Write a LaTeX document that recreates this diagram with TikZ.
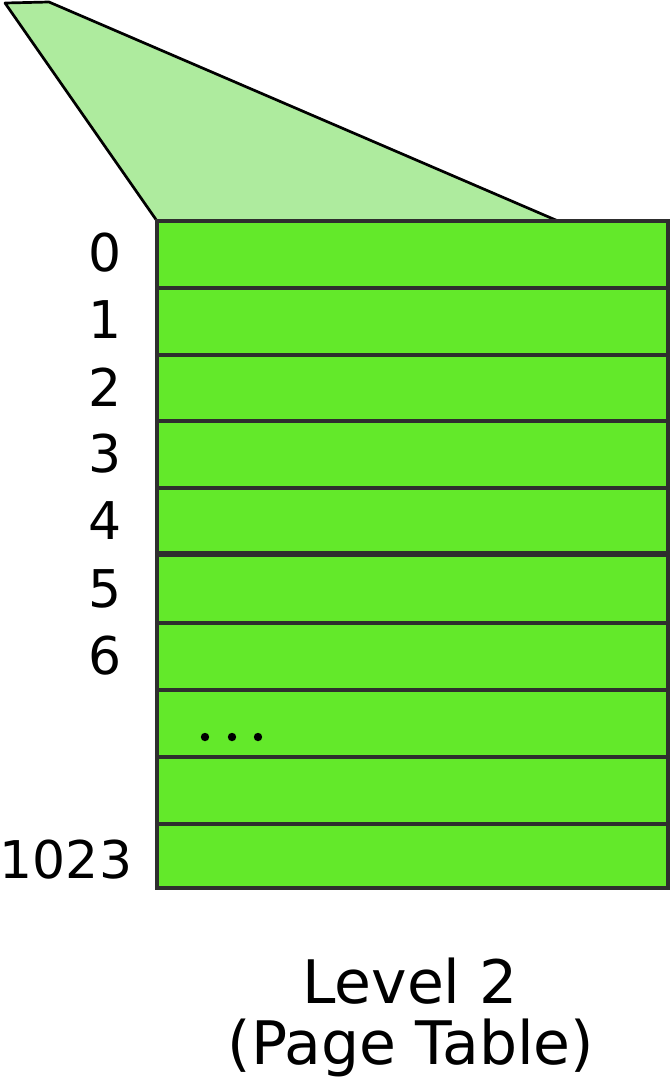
\documentclass[tikz,border=0pt]{standalone}
\usepackage{fontspec}
\setmainfont{DejaVu Sans}
\definecolor{lightg}{HTML}{AEEB9E}
\definecolor{rowg}{HTML}{63E92A}
\definecolor{edge}{HTML}{2E2E2E}
\begin{document}
\begin{tikzpicture}[x=1pt,y=-1pt,
  rowbox/.style={draw=edge,fill=rowg,line width=3.2pt,rectangle,minimum width=511pt,inner sep=0pt,outer sep=0pt},
  idx/.style={font=\fontsize{52}{52}\selectfont,inner sep=0pt},
  captext/.style={font=\fontsize{60}{60}\selectfont,inner sep=0pt,anchor=base}]
\useasboundingbox (0,0) rectangle (671,1090);
% magnified wedge
\coordinate (p1) at (5,3);
\coordinate (p2) at (49,2);
\coordinate (p3) at (558,221);
\coordinate (p4) at (157,221);
\draw[fill=lightg,draw=black,line width=2.7pt,line join=round] (p1) -- (p2) -- (p3) -- (p4) -- cycle;
% rows
\foreach \i/\a/\b in {0/221/288,1/288/355,2/355/421,3/421/488,4/488/554,5/555.5/623,6/623/690,7/690/757,8/757/824,9/824/888}{
  \node[rowbox,minimum height={(\b-\a)*1pt}] (r\i) at (412.5,{(\a+\b)/2}) {};
}
\draw[edge,line width=6pt] (r4.south west) -- (r4.south east);
% labels
\node[idx] (l0) at (105,253) {0};
\node[idx] (l1) at (105,320) {1};
\node[idx] (l2) at (105,387) {2};
\node[idx] (l3) at (105,454) {3};
\node[idx] (l4) at (105,521) {4};
\node[idx] (l5) at (105,589) {5};
\node[idx] (l6) at (105,656) {6};
\node[idx] (l9) at (66,860) {1023};
% dots
\fill[black] (205,737) circle (4.2) (232,737) circle (4.2) (258,737) circle (4.2);
% caption
\node[captext] (t1) at (410,1003) {Level 2};
\node[captext] (t2) at (411,1064) {(Page Table)};
\end{tikzpicture}
\end{document}
